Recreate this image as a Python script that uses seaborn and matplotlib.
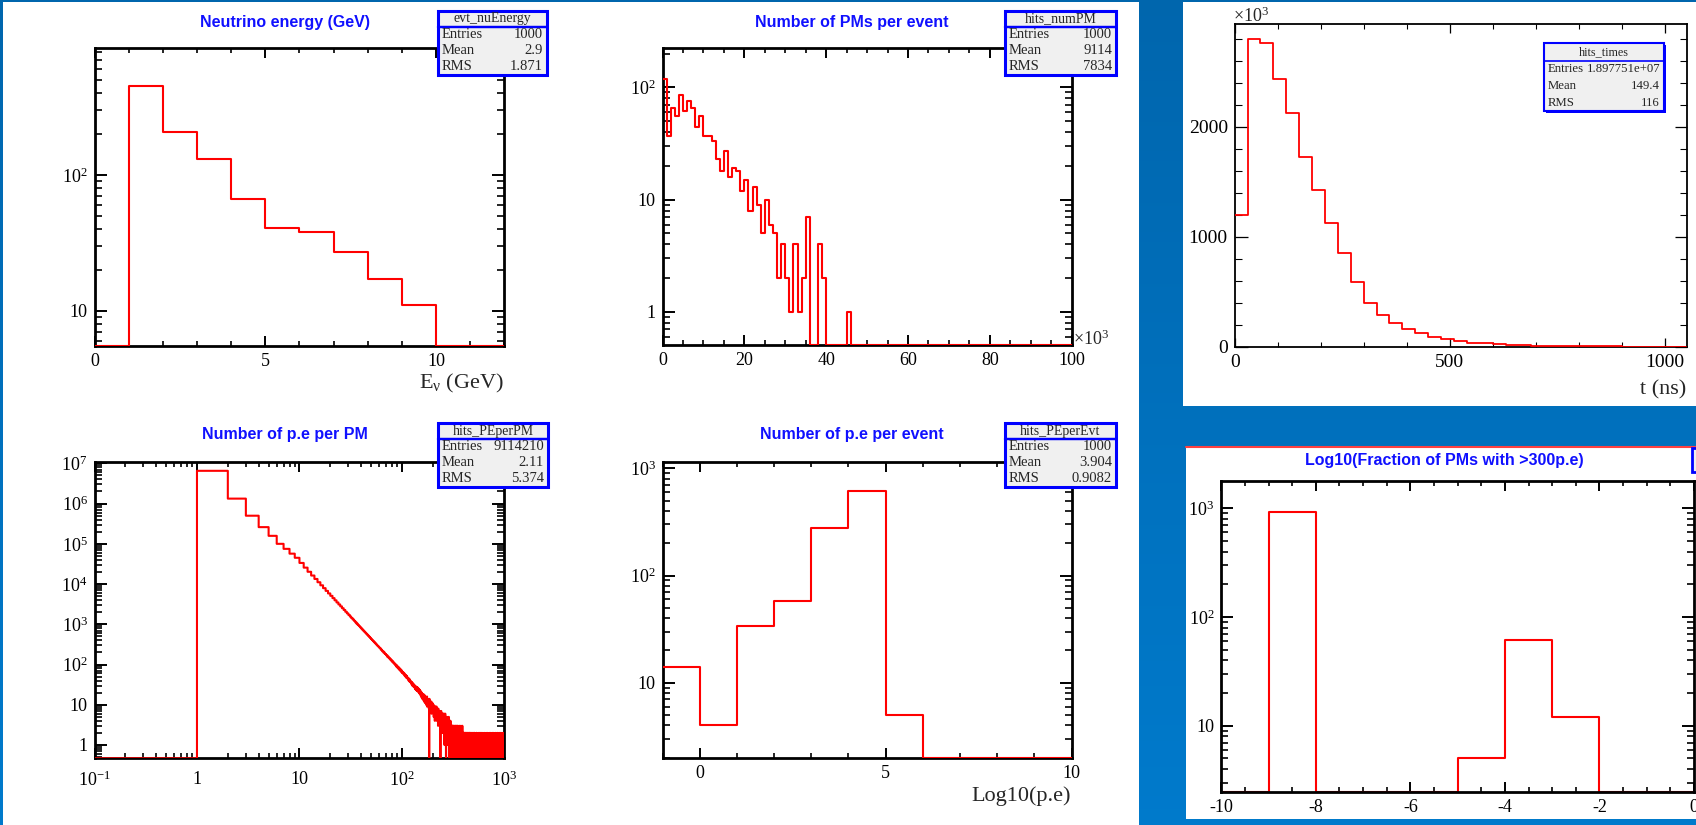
import numpy as np
import matplotlib
matplotlib.use("Agg")
import matplotlib.pyplot as plt
import seaborn as sns
from matplotlib.patches import Rectangle
from matplotlib.ticker import MultipleLocator, LogLocator, NullFormatter

# ---------------- data ----------------
# Panel 1: neutrino energy (GeV), bins of 1 GeV from 0 to 12
nu_edges = list(range(0, 13))
nu_counts = [0, 452, 206, 131, 67, 41, 38, 27, 17, 11, 0, 0]

# Panel 2: number of PMs per event (x in units of 10^3), bins of 1k from 0 to 100k
npm_edges = list(range(0, 101))
npm_counts = [118, 37, 66, 55, 85, 62, 76, 65, 44, 56,
              37, 37, 33, 23, 18, 27, 16, 19, 18, 12,
              15, 8, 13, 9, 5, 10, 6, 5, 2, 4,
              2, 1, 4, 1, 2, 7, 0, 0, 4, 2,
              0, 0, 0, 0, 0, 1] + [0] * 54

# Panel 3: hit times (ns), bins of 30 ns, counts in units of 10^3
t_edges = list(range(0, 1051, 30))
t_counts = [1197, 2794, 2758, 2433, 2121, 1724, 1427, 1124, 855, 585,
            400, 291, 212, 158, 121, 91, 67, 48, 36, 30,
            21, 15, 12, 8, 6, 5, 4, 3, 2, 2,
            1, 1, 1, 1, 1]

# Panel 4: number of p.e per PM, unit bins starting at 1
pe_counts_1_100 = [6530000, 1330000, 500000, 260000, 158000, 100000, 75000, 57000, 45000, 33500,
                   25600, 20200, 16300, 13400, 11100, 9310, 7910, 6770, 5850, 5100,
                   4470, 3940, 3490, 3110, 2790, 2510, 2270, 2050, 1870, 1710,
                   1560, 1430, 1320, 1220, 1120, 1040, 968, 901, 840, 784,
                   733, 687, 645, 606, 571, 538, 508, 480, 453, 429,
                   407, 387, 367, 349, 332, 316, 301, 288, 275, 262,
                   255, 236, 233, 214, 215, 198, 199, 184, 182, 170,
                   171, 155, 158, 146, 147, 135, 138, 126, 129, 117,
                   121, 110, 112, 103, 105, 96, 99, 89, 94, 84,
                   88, 79, 84, 74, 79, 70, 75, 66, 71, 62]
pe_counts_101_300 = [66, 60, 63, 57, 60, 53, 56, 50, 54, 47,
                     52, 46, 48, 43, 46, 40, 44, 38, 42, 37,
                     39, 35, 37, 32, 36, 30, 34, 29, 33, 28,
                     31, 27, 30, 25, 29, 24, 28, 23, 27, 22,
                     27, 23, 26, 21, 25, 20, 24, 19, 23, 19,
                     22, 17, 21, 16, 20, 15, 19, 14, 18, 15,
                     17, 13, 18, 12, 16, 14, 17, 11, 15, 13,
                     15, 10, 14, 12, 16, 9, 13, 11, 14, 10,
                     12, 13, 8, 0, 14, 9, 11, 12, 7, 10,
                     11, 8, 12, 6, 10, 9, 7, 11, 8, 9,
                     9, 7, 10, 5, 8, 9, 6, 8, 4, 9,
                     7, 9, 5, 8, 6, 7, 9, 4, 7, 6,
                     8, 5, 7, 6, 3, 8, 6, 5, 7, 4,
                     6, 7, 4, 6, 5, 3, 0, 6, 5, 4,
                     7, 3, 5, 6, 4, 5, 2, 6, 4, 5,
                     3, 6, 4, 2, 5, 4, 6, 3, 4, 1,
                     5, 3, 4, 6, 2, 4, 3, 5, 0, 4,
                     3, 4, 2, 5, 3, 1, 4, 3, 2, 4,
                     3, 2, 4, 1, 3, 5, 2, 3, 0, 3,
                     2, 4, 3, 1, 3, 2, 4, 0, 3, 2]
pe_tail_301_1000 = [
    "2132031213", "0231312021", "3120211302", "1203121031", "2102130121",
    "1302102210", "2011302120", "1021031201", "1201021310", "0210120102",
    "1021010210", "2101201012", "0120102101", "1012011020", "0110210101",
    "1020101200", "2010110102", "0101201010", "1100101201", "0101010210",
    "1010010201", "0200110100", "1001010012", "0101002001", "1000110100",
    "0102001010", "1001000210", "0100101002", "1010010001", "0020100100",
    "1000100101", "0010020000", "1001000100", "0100100020", "0010001001",
    "1000010000", "0200100100", "0001000101", "1000020000", "0010001000",
    "0100000100", "2000100001", "0001000010", "0100020000", "0000100100",
    "1000001000", "0020000100", "0100000010", "0001002000", "1000000100",
    "0000100001", "0100000200", "0001000000", "1000010000", "0000002000",
    "0100000001", "0002000000", "0000100010", "1000000000", "0020000100",
    "0000010000", "1000000200", "0000000001", "0010000000", "0000200000",
    "0100000010", "0000001000", "2000000000", "0000100001", "0000000102",
]

# Panel 5: number of p.e per event, log10 bins from -1 to 10
pev_edges = list(range(-1, 11))
pev_counts = [14, 4, 34, 58, 276, 617, 5, 0, 0, 0, 0]

# Panel 6: log10(fraction of PMs with >300 p.e), bins from -10 to 0
frac_edges = list(range(-10, 1))
frac_counts = [0, 918, 0, 0, 0, 5, 61, 12, 0, 0]

titles = ["Neutrino energy (GeV)", "Number of PMs per event", "Number of p.e per PM",
          "Number of p.e per event", "Log10(Fraction of PMs with >300p.e)"]
stat_boxes = {
    "evt_nuEnergy": [("Entries", "1000"), ("Mean", "2.9"), ("RMS", "1.871")],
    "hits_numPM": [("Entries", "1000"), ("Mean", "9114"), ("RMS", "7834")],
    "hits_PEperPM": [("Entries", "9114210"), ("Mean", "2.11"), ("RMS", "5.374")],
    "hits_PEperEvt": [("Entries", "1000"), ("Mean", "3.904"), ("RMS", "0.9082")],
    "hits_times": [("Entries", "1.897751e+07"), ("Mean", "149.4"), ("RMS", "116")],
}

# ---------------- style ----------------
sns.set_theme(style="white")
plt.rcParams['font.family'] = ['Liberation Serif', 'DejaVu Serif']
plt.rcParams['mathtext.fontset'] = 'custom'
plt.rcParams['mathtext.rm'] = 'Liberation Serif'
plt.rcParams['mathtext.it'] = 'Liberation Serif:italic'
plt.rcParams['axes.unicode_minus'] = False

W, H = 1696, 825
fig = plt.figure(figsize=(W / 100, H / 100), dpi=100)


def px_axes(l, t, r, b, z=5):
    return fig.add_axes([l / W, 1 - b / H, (r - l) / W, (b - t) / H], zorder=z)


# background
bg = fig.add_axes([0, 0, 1, 1], zorder=0)
top_c = np.array([0.0, 0.40, 0.68])
bot_c = np.array([0.0, 0.48, 0.80])
grad = np.linspace(0, 1, 256)[:, None, None] * (bot_c - top_c) + top_c
bg.imshow(grad, extent=[0, W, H, 0], aspect='auto')
bg.set_xlim(0, W)
bg.set_ylim(H, 0)
bg.axis('off')
for (x0, y0, x1, y1) in [(3, 2, 1139, 826), (1183, 2, 1697, 406), (1186, 446, 1697, 819)]:
    bg.add_patch(Rectangle((x0, y0), x1 - x0, y1 - y0, facecolor='white', edgecolor='none'))
bg.plot([1186, 1697], [446.5, 446.5], color='#ff4040', lw=1.5)

# overlay for texts / stat boxes
ov = fig.add_axes([0, 0, 1, 1], zorder=20)
ov.set_xlim(0, W)
ov.set_ylim(H, 0)
ov.axis('off')
ov.patch.set_visible(False)


def hist(ax, edges, counts, ymin=None, lw=1.5, z=2):
    edges = [float(e) for e in edges]
    counts = np.asarray(counts, float)
    e = np.asarray(edges)
    centers = (e[:-1] + e[1:]) / 2
    shown = counts if ymin is None else np.maximum(counts, ymin)
    sns.histplot(x=centers, weights=shown, bins=edges, element="step", fill=False,
                 color="red", linewidth=lw, ax=ax, zorder=z)
    ax.set_xlabel('')
    ax.set_ylabel('')


def style(ax, frame=2.0, lsize=13, ymaj=8.6, xmaj=7.0, xpad=5):
    for s in ax.spines.values():
        s.set_visible(True)
        s.set_color('black')
        s.set_linewidth(frame)
    ax.tick_params(which='both', direction='in', top=True, right=True, bottom=True, left=True,
                   colors='black', labelsize=lsize, pad=5)
    ax.tick_params(axis='x', which='both', pad=xpad)
    ax.tick_params(axis='y', which='major', length=ymaj, width=frame * 0.7)
    ax.tick_params(axis='y', which='minor', length=ymaj * 0.55, width=frame * 0.6)
    ax.tick_params(axis='x', which='major', length=xmaj, width=frame * 0.7)
    ax.tick_params(axis='x', which='minor', length=xmaj * 0.55, width=frame * 0.6)
    ax.grid(False)
    ax.set_facecolor('white')


def logy(ax, decades, labels):
    ax.set_yscale('log')
    ax.set_yticks(decades, labels=labels)
    ax.yaxis.set_minor_locator(LogLocator(base=10, subs=np.arange(2, 10), numticks=100))
    ax.yaxis.set_minor_formatter(NullFormatter())


def sup(e):
    return r'$\mathregular{10^{%s}}$' % e


# Panel 1
a1 = px_axes(94.5, 48, 504.4, 346)
y1 = (5.5, 863)
hist(a1, nu_edges, nu_counts, ymin=y1[0], z=3)
style(a1)
logy(a1, [10, 100], ['10', sup(2)])
a1.set_xlim(0, 12)
a1.set_ylim(*y1)
a1.xaxis.set_major_locator(MultipleLocator(5))
a1.xaxis.set_minor_locator(MultipleLocator(1))

# Panel 2
a2 = px_axes(662.5, 48, 1071.6, 345)
y2 = (0.508, 224)
hist(a2, npm_edges, npm_counts, ymin=y2[0], z=3)
style(a2)
logy(a2, [1, 10, 100], ['1', '10', sup(2)])
a2.set_xlim(0, 100)
a2.set_ylim(*y2)
a2.xaxis.set_major_locator(MultipleLocator(20))
a2.xaxis.set_minor_locator(MultipleLocator(5))

# Panel 3
a3 = px_axes(1234.7, 24, 1687, 346.7)
hist(a3, t_edges, t_counts, lw=1.3, z=3)
style(a3, frame=1.3, lsize=14, ymaj=9, xmaj=6.5)
a3.set_xlim(0, 1052)
a3.set_ylim(0, 2934)
a3.set_xticks([0, 500, 1000])
a3.set_yticks([0, 1000, 2000])
a3.xaxis.set_minor_locator(MultipleLocator(100))
a3.yaxis.set_minor_locator(MultipleLocator(200))

# Panel 4
a4 = px_axes(94.5, 461.7, 504.4, 758.3)
y4 = (0.467, 1.1e7)
pe_tail = [int(c) for c in "".join(pe_tail_301_1000)]
pe_counts = [0] + pe_counts_1_100 + pe_counts_101_300 + pe_tail
pe_edges = [0.1] + list(range(1, len(pe_counts) + 1))
hist(a4, pe_edges, pe_counts, ymin=y4[0], lw=1.5, z=3)
style(a4, xpad=9)
a4.set_xscale('log')
a4.set_xticks([0.1, 1, 10, 100, 1000], labels=[sup('-1'), '1', '10', sup(2), sup(3)])
a4.xaxis.set_minor_locator(LogLocator(base=10, subs=np.arange(2, 10), numticks=100))
a4.xaxis.set_minor_formatter(NullFormatter())
logy(a4, [1, 10, 100, 1e3, 1e4, 1e5, 1e6, 1e7],
     ['1', '10', sup(2), sup(3), sup(4), sup(5), sup(6), sup(7)])
a4.set_xlim(0.1, 1000)
a4.set_ylim(*y4)

# Panel 5
a5 = px_axes(662.5, 461.7, 1071.6, 757.7)
y5 = (2.0, 1152)
hist(a5, pev_edges, pev_counts, ymin=y5[0], z=3)
style(a5)
logy(a5, [10, 100, 1000], ['10', sup(2), sup(3)])
a5.set_xlim(-1, 10)
a5.set_ylim(*y5)
a5.xaxis.set_major_locator(MultipleLocator(5))
a5.xaxis.set_minor_locator(MultipleLocator(1))

# Panel 6
a6 = px_axes(1221.3, 481, 1694, 791.7)
y6 = (2.47, 1782)
hist(a6, frac_edges, frac_counts, ymin=y6[0])
style(a6)
logy(a6, [10, 100, 1000], ['10', sup(2), sup(3)])
a6.set_xlim(-10, 0)
a6.set_ylim(*y6)
a6.set_xticks([-10, -8, -6, -4, -2, 0], labels=['-10', '-8', '-6', '-4', '-2', '0'])
a6.xaxis.set_minor_locator(MultipleLocator(0.5))

# ---------------- texts ----------------
tfont = dict(family='Liberation Sans', weight='bold', color='#1010ff', fontsize=11.5,
             ha='center', va='center')
ov.text(285, 22, titles[0], **tfont)
ov.text(852, 22, titles[1], **tfont)
ov.text(285, 435, titles[2], **tfont)
ov.text(852, 435, titles[3], **tfont)
ov.text(1444, 460, titles[4], **tfont)

ov.text(504, 383, r'E$_{\mathregular{ν}}$ (GeV)', ha='right', va='center', fontsize=16)
ov.text(1070.5, 796, 'Log10(p.e)', ha='right', va='center', fontsize=16)
ov.text(1686, 390, 't (ns)', ha='right', va='center', fontsize=16)
ov.text(1073, 339, r'$\mathregular{×10^{3}}$', ha='left', va='center', fontsize=13)
ov.text(1233, 16, r'$\mathregular{×10^{3}}$', ha='left', va='center', fontsize=13)

# blue edge of a stat box cut by the right border
ov.add_patch(Rectangle((1692, 448), 10, 24, facecolor='#f0f0f0', edgecolor='blue', lw=2))


def statbox(x0, y0, x1, y1, hdr, name, fs=10.5, lw=2.2, shadow=2):
    rows = stat_boxes[name]
    ov.add_patch(Rectangle((x0 + shadow, y0 + shadow), x1 - x0, y1 - y0,
                           facecolor='blue', edgecolor='none'))
    ov.add_patch(Rectangle((x0, y0), x1 - x0, y1 - y0, facecolor='#f0f0f0',
                           edgecolor='blue', lw=lw))
    ov.plot([x0, x1], [y0 + hdr, y0 + hdr], color='blue', lw=lw * 0.8)
    ov.text((x0 + x1) / 2, y0 + hdr / 2, name, ha='center', va='center', fontsize=fs - 0.5)
    rh = (y1 - y0 - hdr) / len(rows)
    for i, (k, v) in enumerate(rows):
        yy = y0 + hdr + rh * (i + 0.5)
        ov.text(x0 + 4, yy, k, ha='left', va='center', fontsize=fs)
        ov.text(x1 - 4, yy, v, ha='right', va='center', fontsize=fs)


statbox(438, 11, 547, 75, 15.7, "evt_nuEnergy")
statbox(1005, 11, 1116, 75, 15.7, "hits_numPM")
statbox(438, 423, 548, 487, 16, "hits_PEperPM")
statbox(1005, 423, 1116, 487, 16, "hits_PEperEvt")
statbox(1544, 43, 1664, 111, 17.5, "hits_times", fs=9.2, lw=1.5, shadow=1.5)

fig.savefig('out.png', dpi=100)
